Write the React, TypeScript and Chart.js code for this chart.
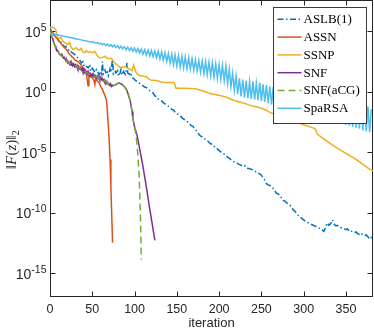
import React, { useEffect, useRef } from 'react';
import { Chart, registerables } from 'chart.js';

Chart.register(...registerables);

// ---------- data (y stored as log10) ----------
const seriesNames = ['ASLB(1)', 'ASSN', 'SSNP', 'SNF', 'SNF(aCG)', 'SpaRSA'];

const xTicks = [0, 50, 100, 150, 200, 250, 300, 350];
const yTickExponents = [5, 0, -5, -10, -15];

const aslbIter = [0, 1, 3, 5, 7, 9, 11, 12, 14, 16, 17, 19, 20, 22, 23, 25, 27, 29, 30, 32, 33, 35, 37, 39, 40, 42, 43, 45, 47, 48, 50, 52, 53, 55, 56, 58, 60, 61, 62, 63, 65, 66, 68, 69, 71, 72, 74, 75, 77, 78, 80, 81, 83, 84, 85, 87, 89, 90, 91, 92, 94, 95, 97, 99, 101, 103, 104, 106, 108, 110, 112, 114, 116, 118, 120, 122, 124, 126, 128, 130, 132, 134, 136, 138, 140, 142, 144, 146, 148, 150, 152, 154, 157, 159, 161, 163, 165, 167, 169, 171, 173, 175, 177, 179, 181, 183, 186, 188, 190, 192, 195, 197, 199, 201, 204, 206, 208, 210, 213, 216, 218, 220, 222, 225, 228, 230, 232, 235, 238, 240, 243, 246, 248, 250, 252, 254, 256, 258, 260, 262, 264, 266, 268, 270, 272, 274, 276, 278, 280, 282, 284, 286, 288, 290, 292, 294, 296, 298, 300, 302, 304, 307, 310, 313, 316, 319, 322, 324, 326, 328, 330, 332, 334, 336, 338, 340, 342, 344, 346, 348, 350, 352, 354, 356, 358, 360, 362, 364, 366, 368, 370, 372, 374, 376, 378, 380, 382];
const aslbLog = [5.4, 5.0, 4.8, 4.6, 4.5, 4.4, 4.1, 4.2, 3.95, 3.85, 3.7, 3.75, 3.6, 3.45, 3.5, 3.3, 3.2, 3.1, 3.0, 2.9, 2.8, 2.65, 2.4, 2.5, 2.2, 2.25, 2.1, 2.0, 2.15, 1.7, 1.95, 1.75, 1.6, 1.85, 1.75, 1.4, 1.7, 1.5, 2.5, 1.5, 1.8, 1.6, 1.65, 1.35, 1.9, 1.6, 2.7, 1.5, 1.7, 1.55, 1.75, 1.3, 1.6, 1.85, 1.4, 1.7, 1.45, 1.6, 2.4, 1.55, 1.45, 1.6, 1.2, 1.1, 0.95, 0.85, 0.75, 0.7, 0.6, 0.5, 0.4, 0.35, 0.25, 0.1, 0.0, -0.1, -0.33, -0.4, -0.6, -0.7, -0.75, -0.9, -1.0, -1.1, -1.2, -1.33, -1.45, -1.5, -1.7, -1.8, -1.9, -2.0, -2.2, -2.3, -2.4, -2.5, -2.67, -2.8, -2.85, -3.1, -3.2, -3.4, -3.6, -3.7, -3.75, -3.9, -4.0, -4.2, -4.3, -4.35, -4.6, -4.65, -4.8, -4.9, -5.1, -5.15, -5.3, -5.4, -5.55, -5.75, -5.8, -5.85, -5.95, -6.05, -6.15, -6.1, -6.3, -6.35, -6.4, -6.5, -6.6, -6.7, -6.8, -6.9, -7.1, -7.3, -7.6, -7.7, -7.75, -7.9, -8.0, -8.2, -8.4, -8.45, -8.6, -8.8, -9.0, -9.05, -9.2, -9.3, -9.4, -9.6, -9.8, -9.9, -10.1, -10.25, -10.35, -10.5, -10.6, -10.7, -10.8, -10.9, -11.0, -11.1, -11.2, -11.3, -11.45, -11.55, -11.2, -10.85, -11.05, -10.9, -10.6, -10.95, -11.1, -11.05, -11.2, -11.25, -11.3, -11.35, -11.4, -11.35, -11.55, -11.5, -11.6, -11.65, -11.6, -11.75, -11.8, -11.7, -11.85, -11.9, -11.85, -12.0, -12.2, -12.05, -12.15];

const assnIter = [0, 2, 4, 6, 8, 10, 12, 14, 16, 18, 20, 22, 24, 26, 28, 30, 32, 34, 36, 38, 40, 42, 43, 44, 45, 46, 48, 50, 52, 53, 54, 56, 58, 60, 62, 64, 66, 67, 68, 69, 70, 71, 72, 73, 74];
const assnLog = [5.2, 5.0, 4.85, 4.6, 4.45, 4.25, 4.1, 3.9, 3.75, 3.6, 3.45, 3.2, 3.05, 2.9, 2.75, 2.6, 2.55, 2.45, 2.3, 2.1, 1.95, 1.75, 1.6, 1.0, 0.5, 1.4, 1.25, 1.15, 0.95, 0.6, 1.1, 0.9, 0.75, 0.45, 0.2, -0.15, -0.5, -0.8, -1.8, -2.8, -4.0, -5.6, -7.8, -10.2, -12.5];

const ssnpIter = [0, 3, 5, 7, 9, 11, 13, 15, 17, 19, 21, 23, 25, 27, 29, 31, 33, 35, 37, 39, 41, 43, 45, 48, 51, 53, 55, 57, 59, 62, 65, 67, 70, 73, 75, 77, 80, 83, 86, 89, 92, 95, 97, 99, 101, 103, 106, 110, 114, 117, 120, 124, 128, 133, 138, 143, 147, 149, 154, 160, 166, 172, 177, 182, 187, 192, 197, 202, 207, 212, 217, 222, 227, 232, 236, 241, 245, 250, 255, 260, 265, 270, 277, 284, 290, 295, 301, 307, 312, 314, 316, 320, 325, 330, 336, 343, 349, 355, 361, 366, 372, 377, 382];
const ssnpLog = [5.35, 5.35, 5.3, 5.1, 4.5, 4.4, 4.5, 4.2, 4.1, 4.0, 3.9, 4.1, 3.7, 3.5, 3.55, 3.65, 3.5, 3.45, 3.6, 3.3, 3.25, 3.4, 3.3, 3.3, 3.25, 3.35, 3.1, 2.9, 2.8, 2.85, 2.95, 2.8, 2.75, 2.75, 2.5, 2.35, 2.2, 2.0, 2.05, 2.1, 1.95, 1.85, 1.75, 2.2, 1.7, 1.5, 1.35, 1.3, 1.25, 1.05, 0.95, 0.95, 0.9, 0.8, 0.78, 0.78, 0.75, 0.3, 0.3, 0.3, 0.28, 0.25, 0.15, 0.05, -0.1, -0.18, -0.25, -0.32, -0.4, -0.55, -0.7, -0.8, -0.9, -1.0, -1.1, -1.2, -1.25, -1.35, -1.5, -1.7, -1.85, -2.0, -2.15, -2.3, -2.45, -2.6, -2.75, -2.9, -3.0, -3.1, -3.5, -3.7, -3.95, -4.2, -4.5, -4.8, -5.05, -5.3, -5.55, -5.8, -6.1, -6.35, -6.55];

const snfIter = [0, 1, 2, 3, 4, 5, 6, 7, 8, 10, 11, 13, 14, 16, 17, 19, 20, 21, 22, 23, 24, 25, 26, 27, 28, 29, 30, 31, 32, 33, 34, 35, 36, 37, 38, 39, 40, 41, 42, 43, 44, 45, 46, 47, 48, 49, 50, 51, 52, 53, 54, 55, 56, 57, 58, 59, 60, 61, 62, 63, 64, 65, 66, 67, 68, 69, 70, 71, 72, 73, 74, 75, 77, 79, 81, 83, 85, 87, 89, 91, 93, 95, 97, 98, 100, 103, 106, 110, 114, 118, 121, 124];
const snfLog = [5.0, 4.8, 4.6, 4.45, 4.2, 4.0, 3.8, 3.6, 3.5, 3.3, 3.15, 3.0, 3.1, 2.8, 2.85, 2.5, 2.6, 2.4, 2.5, 2.3, 2.45, 2.2, 2.35, 2.15, 2.3, 2.1, 2.25, 2.05, 2.2, 1.95, 2.1, 1.9, 2.0, 1.8, 1.95, 1.7, 1.85, 1.6, 1.75, 1.5, 1.65, 1.4, 1.55, 1.35, 1.5, 1.3, 1.45, 1.25, 1.4, 1.25, 1.35, 1.15, 1.3, 1.1, 1.25, 1.05, 1.2, 1.0, 1.1, 0.9, 1.0, 0.8, 0.9, 0.7, 0.8, 0.6, 0.65, 0.5, 0.6, 0.45, 0.55, 0.5, 0.55, 0.65, 0.72, 0.7, 0.62, 0.5, 0.35, 0.1, -0.3, -0.8, -1.6, -2.2, -2.9, -3.6, -4.7, -6.2, -7.9, -9.7, -11.0, -12.3];

const snfAcgIter = [0, 2, 4, 7, 10, 13, 16, 19, 22, 25, 28, 31, 34, 37, 40, 43, 46, 49, 52, 55, 58, 61, 64, 67, 70, 73, 76, 79, 82, 85, 88, 91, 93, 95, 97, 98, 100, 102, 104, 105.5, 107, 108];
const snfAcgLog = [5.0, 4.6, 4.2, 3.6, 3.3, 3.0, 2.8, 2.55, 2.45, 2.3, 2.2, 2.15, 2.0, 1.9, 1.75, 1.6, 1.45, 1.4, 1.3, 1.25, 1.15, 1.1, 0.95, 0.8, 0.6, 0.5, 0.55, 0.65, 0.72, 0.62, 0.42, 0.1, -0.3, -0.8, -1.6, -2.2, -2.9, -3.7, -5.3, -7.0, -10.5, -13.9];

// SpaRSA sampled every 2nd iteration (0, 2, 4, ... 380)
const spaRSALog = [4.85, 4.82, 4.79, 4.76, 4.73, 4.70, 4.67, 4.64, 4.61, 4.58, 4.55, 4.52, 4.49, 4.46, 4.43, 4.40, 4.37, 4.34, 4.31, 4.28, 4.25, 4.22, 4.19, 4.16, 4.14, 4.10,
  4.12, 4.02, 4.08, 3.96, 4.03, 3.90, 3.99, 3.84, 3.95, 3.78, 3.91, 3.72, 3.87, 3.66, 3.83, 3.60, 3.79, 3.55, 3.74, 3.48, 3.70, 3.42, 3.66, 3.36,
  3.62, 3.28, 3.58, 3.20, 3.54, 3.12, 3.50, 3.04, 3.46, 2.97, 3.42, 2.90, 3.38, 2.82, 3.34, 2.72, 3.30, 2.62, 3.24, 2.50, 3.18, 2.38, 3.12, 2.25,
  3.05, 2.12, 3.00, 2.05, 2.94, 1.98, 2.88, 1.92, 2.82, 1.88, 2.75, 1.80, 2.66, 1.72, 2.60, 1.62, 2.55, 1.52, 2.50, 1.42, 2.45, 1.34, 2.40, 1.24,
  2.32, 1.14, 2.26, 1.04, 2.20, 0.92, 2.12, 0.70, 1.85, 0.42, 1.55, 0.12, 1.32, -0.18, 1.12, -0.38, 1.02, -0.48, 0.92, -0.52, 0.84, -0.58,
  0.86, -0.64, 0.72, -0.70, 0.76, -0.75, 0.62, -0.84, 0.56, -0.94, 0.46, -1.04, 0.40, -1.10, 0.32, -1.18, 0.26, -1.25, 0.20, -1.32, 0.14, -1.40,
  0.10, -1.46, 0.04, -1.54, 0.00, -1.60, -0.06, -1.70, -0.10, -1.78, -0.16, -1.86, -0.20, -1.94, -0.26, -2.00, -0.30, -2.10, -0.36, -2.16,
  -0.40, -2.24, -0.46, -2.30, -0.50, -2.38, -0.56, -2.46, -0.60, -2.62, -0.66, -2.58, -0.72, -2.74, -0.76, -2.80, -0.82, -2.90, -0.86, -2.96,
  -0.92, -3.05, -0.45, -3.20, -1.05, -3.28, -1.20, -3.35, -1.45];
const spaRSAIter = spaRSALog.map((_, i) => i * 2);

// ---------- styling ----------
const seriesColors = ['#0072BD', '#D95319', '#EDB120', '#7E2F8E', '#77AC30', '#4DBEEE'];
const seriesDashes: number[][] = [[6, 2.5, 1.5, 2.5], [], [], [], [7, 4], []];
const AXIS_COLOR = '#262626';
const X_MIN = 0;
const X_MAX = 382;
const Y_MIN = Math.pow(10, -16.9);
const Y_MAX = Math.pow(10, 7.6);

const toPoints = (iters: number[], logs: number[]) =>
  iters.map((x, i) => ({ x, y: Math.pow(10, logs[i]) }));

const SANS = '"Liberation Sans", Arial, sans-serif';
const SERIF = '"Liberation Serif", "DejaVu Serif", serif';

const framePlugin = {
  id: 'matlabFrame',
  beforeDatasetsDraw(chart: any) {
    const { ctx, chartArea: a, scales } = chart;
    const x = scales.x, y = scales.y;
    const L = Math.round(a.left) + 0.5, R = Math.round(a.right) - 0.5;
    const T = Math.round(a.top) + 0.5, B = Math.round(a.bottom) + 0.5;
    ctx.save();
    ctx.strokeStyle = AXIS_COLOR;
    ctx.lineWidth = 1;
    ctx.strokeRect(L, T, R - L, B - T);
    ctx.beginPath();
    const tl = 5;
    xTicks.forEach((v) => {
      const px = Math.round(x.getPixelForValue(v)) + 0.5;
      ctx.moveTo(px, B); ctx.lineTo(px, B - tl);
      ctx.moveTo(px, T); ctx.lineTo(px, T + tl);
    });
    yTickExponents.forEach((e) => {
      const py = Math.round(y.getPixelForValue(Math.pow(10, e))) + 0.5;
      ctx.moveTo(L, py); ctx.lineTo(L + tl, py);
      ctx.moveTo(R, py); ctx.lineTo(R - tl, py);
    });
    ctx.stroke();
    ctx.restore();
  },
  afterDraw(chart: any) {
    const { ctx, chartArea: a, scales } = chart;
    const x = scales.x, y = scales.y;
    ctx.save();
    ctx.fillStyle = AXIS_COLOR;
    // x tick labels
    ctx.font = `12.5px ${SANS}`;
    ctx.textAlign = 'center';
    ctx.textBaseline = 'middle';
    xTicks.forEach((v) => {
      ctx.fillText(String(v), x.getPixelForValue(v), a.bottom + 13.5);
    });
    // x title
    ctx.font = `13px ${SANS}`;
    ctx.fillText('iteration', (a.left + a.right) / 2, a.bottom + 27.5);
    // y tick labels 10^e
    ctx.textBaseline = 'alphabetic';
    yTickExponents.forEach((e) => {
      const py = y.getPixelForValue(Math.pow(10, e));
      const expText = String(e);
      ctx.font = `10.5px ${SANS}`;
      const we = ctx.measureText(expText).width;
      const right = a.left - 3.5;
      ctx.textAlign = 'left';
      ctx.fillText(expText, right - we, py - 0.5);
      ctx.font = `14px ${SANS}`;
      ctx.textAlign = 'right';
      ctx.fillText('10', right - we, py + 5.5);
    });
    // y title ||F(z)||_2
    ctx.save();
    ctx.translate(11, (a.top + a.bottom) / 2 + 2);
    ctx.rotate(-Math.PI / 2);
    const pieces = [
      { t: '\u2016', f: `15px ${SERIF}`, dy: 0 },
      { t: 'F', f: `italic 15px ${SERIF}`, dy: 0 },
      { t: '(', f: `15px ${SERIF}`, dy: 0 },
      { t: 'z', f: `italic 15px ${SERIF}`, dy: 0 },
      { t: ')', f: `15px ${SERIF}`, dy: 0 },
      { t: '\u2016', f: `15px ${SERIF}`, dy: 0 },
      { t: '2', f: `10.5px ${SERIF}`, dy: 3 },
    ];
    let total = 0;
    const widths = pieces.map((p) => { ctx.font = p.f; const w = ctx.measureText(p.t).width; total += w; return w; });
    let cx = -total / 2;
    ctx.textAlign = 'left';
    pieces.forEach((p, i) => {
      ctx.font = p.f;
      ctx.fillText(p.t, cx, 5 + p.dy);
      cx += widths[i] + (i === 1 ? 0.5 : 0);
    });
    ctx.restore();

    // legend
    const lg = { left: 273.5, top: 7.5, right: 366.5, bottom: 123.5 };
    ctx.fillStyle = '#ffffff';
    ctx.fillRect(lg.left, lg.top, lg.right - lg.left, lg.bottom - lg.top);
    ctx.strokeStyle = '#3a3a3a';
    ctx.lineWidth = 1;
    ctx.strokeRect(lg.left, lg.top, lg.right - lg.left, lg.bottom - lg.top);
    ctx.font = `13px ${SERIF}`;
    ctx.textAlign = 'left';
    ctx.textBaseline = 'middle';
    chart.data.datasets.forEach((ds: any, i: number) => {
      const ry = 19.3 + i * 17.8;
      ctx.save();
      ctx.strokeStyle = ds.borderColor;
      ctx.lineWidth = ds.borderWidth;
      ctx.setLineDash(ds.borderDash || []);
      ctx.beginPath();
      ctx.moveTo(277.5, ry);
      ctx.lineTo(301.5, ry);
      ctx.stroke();
      ctx.restore();
      ctx.fillStyle = '#000000';
      ctx.fillText(ds.label, 303.5, ry + 0.5);
    });
    ctx.restore();
  },
};

export default function App() {
  const canvasRef = useRef<HTMLCanvasElement | null>(null);

  useEffect(() => {
    document.body.style.margin = '0';
    const canvas = canvasRef.current;
    if (!canvas) return;
    const seriesData = [
      toPoints(aslbIter, aslbLog),
      toPoints(assnIter, assnLog),
      toPoints(ssnpIter, ssnpLog),
      toPoints(snfIter, snfLog),
      toPoints(snfAcgIter, snfAcgLog),
      toPoints(spaRSAIter, spaRSALog),
    ];
    const datasets = seriesNames.map((name, i) => ({
      label: name,
      data: seriesData[i],
      borderColor: seriesColors[i],
      backgroundColor: seriesColors[i],
      borderWidth: 1.5,
      borderDash: seriesDashes[i],
      pointRadius: 0,
      fill: false,
      tension: 0,
      order: seriesNames.length - i,
    }));
    const chart = new Chart(canvas, {
      type: 'line',
      data: { datasets },
      options: {
        animation: false,
        responsive: false,
        events: [],
        layout: { padding: { top: 0, right: 1, bottom: 0, left: 0 } },
        plugins: { legend: { display: false }, tooltip: { enabled: false } },
        scales: {
          x: {
            type: 'linear', min: X_MIN, max: X_MAX,
            ticks: { display: false }, grid: { display: false }, border: { display: false },
            afterFit: (s: any) => { s.height = 36; },
          },
          y: {
            type: 'logarithmic', min: Y_MIN, max: Y_MAX,
            ticks: { display: false }, grid: { display: false }, border: { display: false },
            afterFit: (s: any) => { s.width = 50; },
          },
        },
      } as any,
      plugins: [framePlugin],
    });
    return () => chart.destroy();
  }, []);

  return (
    <div style={{ width: 374, height: 332, background: '#fff' }}>
      <canvas ref={canvasRef} width={374} height={332} style={{ display: 'block' }} />
    </div>
  );
}
